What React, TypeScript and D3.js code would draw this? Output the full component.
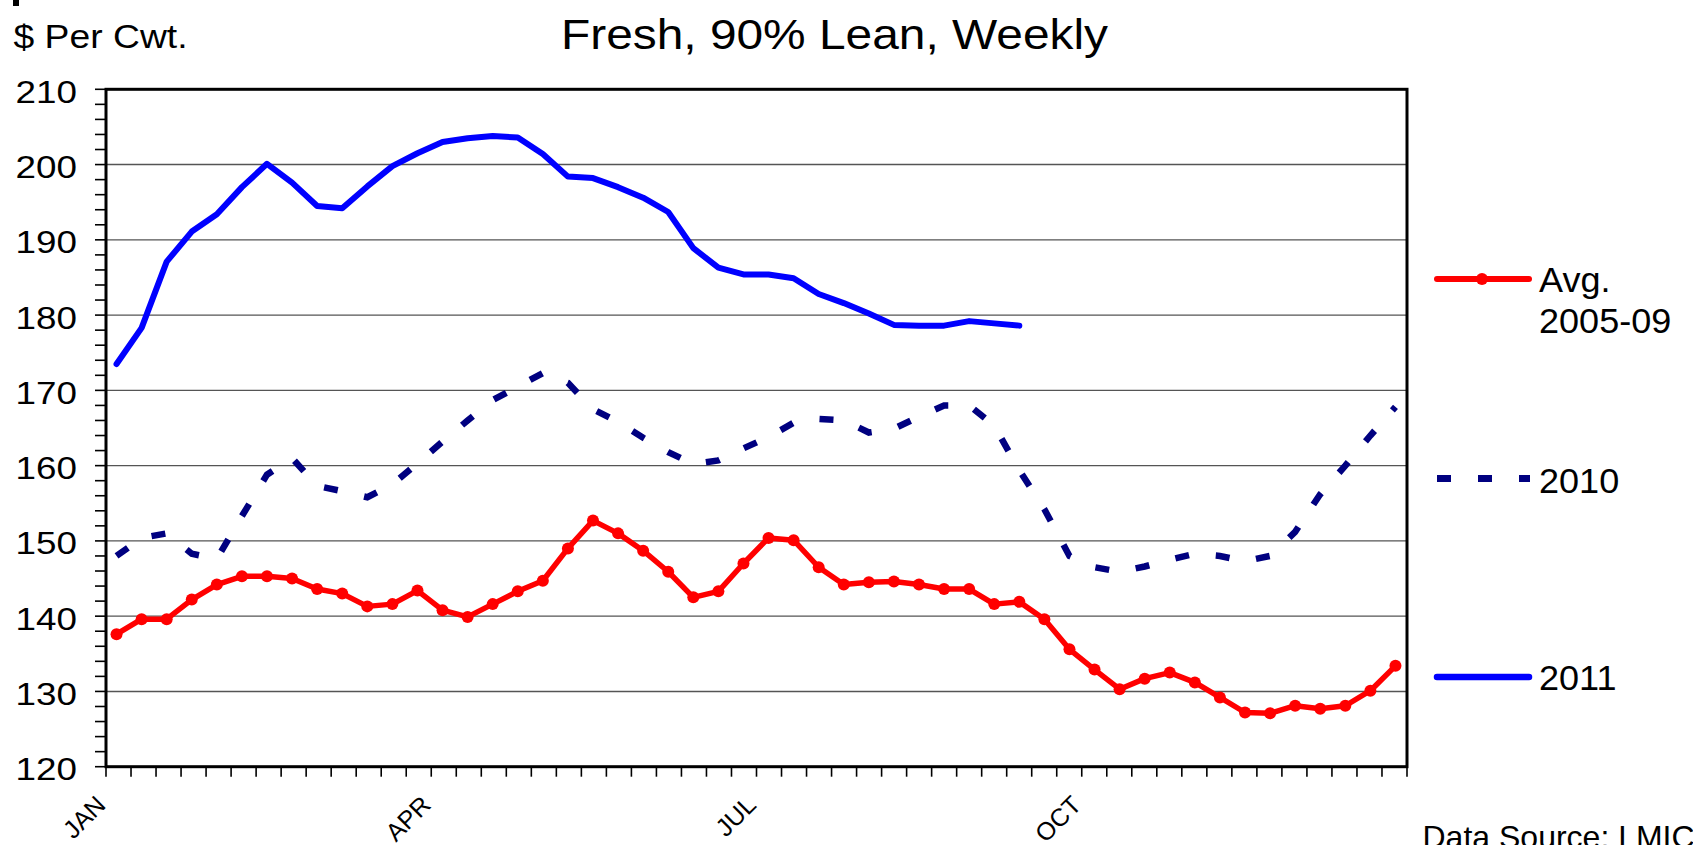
import React, { useEffect, useRef } from "react";
import * as d3 from "d3";

// weekly prices, $ per cwt
const avg0509 = [
  137.6, 139.6, 139.6, 142.2, 144.2, 145.3, 145.3, 145.0, 143.6, 143.0, 141.3, 141.6, 143.4,
  140.8, 139.9, 141.6, 143.3, 144.7, 149.0, 152.7, 151.0, 148.7, 145.9, 142.5, 143.3, 147.0,
  150.4, 150.1, 146.5, 144.2, 144.5, 144.6, 144.2, 143.6, 143.6, 141.6, 141.9, 139.6, 135.6,
  132.9, 130.3, 131.7, 132.5, 131.2, 129.2, 127.2, 127.1, 128.1, 127.7, 128.1, 130.1, 133.4,
];
const y2010 = [
  148.0, 150.4, 151.0, 148.3, 147.6, 153.3, 158.8, 161.0, 157.3, 156.6, 155.8, 157.5, 160.3,
  163.2, 166.0, 168.7, 170.5, 172.3, 171.0, 167.5, 165.8, 163.7, 161.8, 160.2, 160.7, 162.3,
  163.8, 165.7, 166.2, 166.0, 164.4, 164.9, 166.5, 168.0, 168.0, 165.3, 159.4, 154.2, 148.0,
  146.5, 145.9, 146.6, 147.5, 148.3, 148.0, 147.3, 148.0, 151.2, 156.2, 160.0, 164.0, 167.8,
];
const y2011 = [
  173.5, 178.3, 187.1, 191.1, 193.4, 197.0, 200.1, 197.6, 194.5, 194.2, 197.1, 199.8, 201.5,
  203.0, 203.5, 203.8, 203.6, 201.4, 198.4, 198.2, 197.0, 195.6, 193.7, 188.9, 186.3, 185.4,
  185.4, 184.9, 182.8, 181.6, 180.2, 178.7, 178.6, 178.6, 179.2, 178.9, 178.6,
];
const weeks = d3.range(52);
const yTicks = [120, 130, 140, 150, 160, 170, 180, 190, 200, 210];
const monthLabels = ["JAN", "APR", "JUL", "OCT"];
const monthWeeks = [0, 13, 26, 39];

const App = () => {
  const ref = useRef(null);

  useEffect(() => {
    const svg = d3.select(ref.current);
    svg.selectAll("*").remove();

    const left = 106, right = 1407, top = 89.3, bottom = 766.7;
    const font = "Arial, 'Liberation Sans', sans-serif";

    // stretched text, like the original picture
    const text = (x, y, str, size, anchor = "start", sx = 1) =>
      svg.append("text")
        .attr("transform", `translate(${x},${y}) scale(${sx},1)`)
        .attr("font-family", font)
        .attr("font-size", size)
        .attr("text-anchor", anchor)
        .attr("fill", "#000")
        .text(str);

    const x = d3.scalePoint().domain(weeks).range([left, right - 1]).padding(0.42);
    const xTick = d3.scaleLinear().domain([0, 52]).range([left, right]);
    const y = d3.scaleLinear().domain([120, 210]).range([bottom, top]);

    svg.append("rect").attr("width", 1693).attr("height", 845).attr("fill", "#fff");
    svg.append("rect").attr("x", 13).attr("y", 0).attr("width", 6).attr("height", 6).attr("fill", "#000");

    // gridlines
    svg.append("g")
      .selectAll("line")
      .data(yTicks.slice(1, -1))
      .enter()
      .append("line")
      .attr("x1", left).attr("x2", right)
      .attr("y1", (d) => y(d)).attr("y2", (d) => y(d))
      .attr("stroke", "#555")
      .attr("stroke-width", 1.4);

    // y minor/major ticks
    svg.append("g")
      .selectAll("line")
      .data(d3.range(120, 211, 2))
      .enter()
      .append("line")
      .attr("x1", left - 11).attr("x2", left)
      .attr("y1", (d) => y(d)).attr("y2", (d) => y(d))
      .attr("stroke", "#000")
      .attr("stroke-width", 1.6);

    // x ticks
    svg.append("g")
      .selectAll("line")
      .data(d3.range(53))
      .enter()
      .append("line")
      .attr("x1", (d) => xTick(d)).attr("x2", (d) => xTick(d))
      .attr("y1", bottom).attr("y2", bottom + 10)
      .attr("stroke", "#000")
      .attr("stroke-width", 1.6);

    // frame
    svg.append("rect")
      .attr("x", left).attr("y", top)
      .attr("width", right - left).attr("height", bottom - top)
      .attr("fill", "none")
      .attr("stroke", "#000")
      .attr("stroke-width", 3);

    yTicks.forEach((t) => text(77, y(t) + 13.4, t, 32, "end", 1.15));

    monthWeeks.forEach((w, i) => {
      svg.append("text")
        .attr("transform", `translate(${xTick(w) + 1},${806.5}) rotate(-45)`)
        .attr("font-family", font)
        .attr("font-size", 25)
        .attr("text-anchor", "end")
        .text(monthLabels[i]);
    });

    const line = (vals) =>
      d3.line()
        .x((d, i) => x(weeks[i]))
        .y((d) => y(d))(vals);

    svg.append("path")
      .attr("d", line(y2010))
      .attr("fill", "none")
      .attr("stroke", "#000080")
      .attr("stroke-width", 6.5)
      .attr("stroke-dasharray", "14,27");

    svg.append("path")
      .attr("d", line(y2011))
      .attr("fill", "none")
      .attr("stroke", "#0000FF")
      .attr("stroke-width", 6)
      .attr("stroke-linejoin", "round")
      .attr("stroke-linecap", "round");

    svg.append("path")
      .attr("d", line(avg0509))
      .attr("fill", "none")
      .attr("stroke", "#FF0000")
      .attr("stroke-width", 5.5)
      .attr("stroke-linejoin", "round");

    svg.append("g")
      .selectAll("circle")
      .data(avg0509)
      .enter()
      .append("circle")
      .attr("cx", (d, i) => x(weeks[i]))
      .attr("cy", (d) => y(d))
      .attr("r", 6)
      .attr("fill", "#FF0000");

    // titles
    text(834.5, 48.6, "Fresh, 90% Lean, Weekly", 42, "middle", 1.14);
    text(13.5, 47.8, "$ Per Cwt.", 33, "start", 1.13);

    // legend
    svg.append("line")
      .attr("x1", 1437).attr("x2", 1529).attr("y1", 279).attr("y2", 279)
      .attr("stroke", "#FF0000").attr("stroke-width", 6).attr("stroke-linecap", "round");
    svg.append("circle").attr("cx", 1482).attr("cy", 279).attr("r", 6).attr("fill", "#FF0000");
    text(1539, 291.7, "Avg.", 35, "start", 1.03);
    text(1539, 333, "2005-09", 35, "start", 1.03);

    svg.append("line")
      .attr("x1", 1437).attr("x2", 1530).attr("y1", 478.5).attr("y2", 478.5)
      .attr("stroke", "#000080").attr("stroke-width", 7).attr("stroke-dasharray", "14,27");
    text(1539, 493, "2010", 35, "start", 1.03);

    svg.append("line")
      .attr("x1", 1437).attr("x2", 1529).attr("y1", 677).attr("y2", 677)
      .attr("stroke", "#0000FF").attr("stroke-width", 6.5).attr("stroke-linecap", "round");
    text(1539, 690, "2011", 35, "start", 1.03);

    text(1422.5, 848, "Data Source: LMIC", 32, "start", 1.0);
  }, []);

  return (
    <svg
      ref={ref}
      width={1693}
      height={845}
      style={{ position: "absolute", left: 0, top: 0, overflow: "hidden" }}
    />
  );
};

export default App;
